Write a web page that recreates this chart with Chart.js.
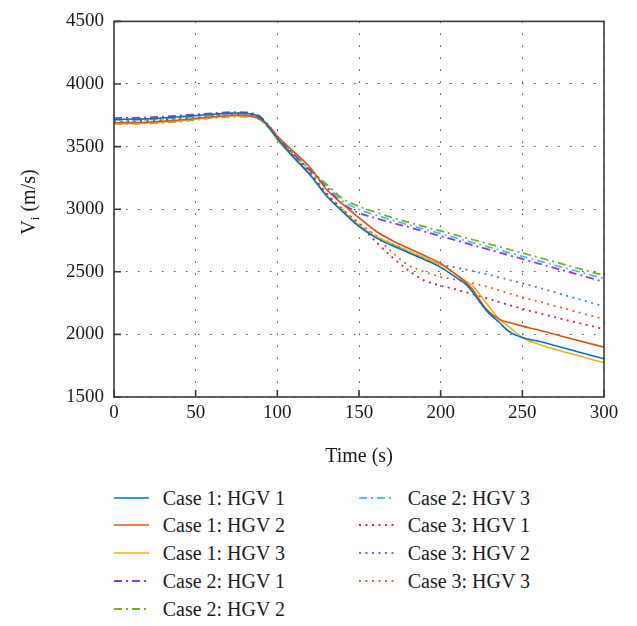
<!DOCTYPE html>
<html>
<head>
<meta charset="utf-8">
<script src="https://cdn.jsdelivr.net/npm/chart.js@4/dist/chart.umd.min.js"></script>
<style>
  html, body { margin: 0; padding: 0; background: #fff; }
  #zone { position: absolute; left: 0; top: 0; width: 637px; height: 470px; }
  .item { position: absolute; height: 20px; font: 20px "Liberation Serif", "DejaVu Serif", serif; color: #1a1a1a; white-space: nowrap; line-height: 20px; }
  .item svg { position: absolute; left: 0; top: 5px; }
  .item span { position: absolute; top: 0; }
</style>
</head>
<body>
<div id="zone"><canvas id="g-vi"></canvas></div>
<div id="legende"></div>
<script>
// Vitesse Vi (m/s) en fonction du temps — 3 cas x 3 HGV
var tempsCas1 = [0, 20, 40, 60, 75, 85, 90, 95, 100, 110, 120, 130, 140, 150, 160, 170, 180, 190, 200, 210, 216, 220, 228, 236, 242, 250, 260, 280, 300];
var tempsCas23 = [0, 20, 40, 60, 75, 85, 90, 95, 100, 110, 120, 130, 140, 150, 160, 170, 180, 190, 200, 210, 220, 230, 240, 250, 260, 280, 300];

var cas1Hgv1 = [3718, 3722, 3738, 3758, 3768, 3758, 3728, 3650, 3565, 3415, 3275, 3110, 2980, 2862, 2775, 2712, 2655, 2598, 2535, 2450, 2394, 2330, 2190, 2095, 2022, 1975, 1945, 1875, 1805];
var cas1Hgv2 = [3690, 3695, 3712, 3738, 3750, 3742, 3715, 3662, 3585, 3460, 3335, 3160, 3040, 2932, 2828, 2752, 2690, 2630, 2567, 2472, 2407, 2350, 2200, 2120, 2095, 2066, 2035, 1965, 1898];
var cas1Hgv3 = [3682, 3688, 3705, 3732, 3745, 3738, 3712, 3645, 3555, 3410, 3275, 3105, 2985, 2872, 2785, 2725, 2668, 2612, 2555, 2475, 2420, 2381, 2250, 2120, 2060, 1975, 1922, 1845, 1773];

var cas2Hgv1 = [3728, 3732, 3748, 3766, 3776, 3766, 3735, 3665, 3580, 3440, 3310, 3175, 3045, 2970, 2930, 2892, 2858, 2822, 2785, 2749, 2712, 2676, 2639, 2603, 2566, 2493, 2420];
var cas2Hgv2 = [3680, 3685, 3700, 3728, 3740, 3735, 3708, 3645, 3570, 3440, 3315, 3200, 3085, 3022, 2977, 2935, 2897, 2861, 2826, 2791, 2756, 2721, 2686, 2650, 2615, 2543, 2471];
var cas2Hgv3 = [3710, 3715, 3730, 3752, 3762, 3755, 3725, 3658, 3575, 3440, 3312, 3190, 3068, 2998, 2955, 2914, 2877, 2840, 2804, 2768, 2732, 2696, 2660, 2624, 2588, 2517, 2446];

var cas3Hgv1 = [3700, 3705, 3720, 3745, 3755, 3748, 3718, 3650, 3565, 3420, 3285, 3120, 2990, 2880, 2745, 2620, 2515, 2430, 2390, 2357, 2320, 2282, 2242, 2205, 2170, 2105, 2042];
var cas3Hgv2 = [3712, 3718, 3735, 3756, 3766, 3756, 3726, 3655, 3568, 3420, 3285, 3120, 2995, 2880, 2790, 2725, 2665, 2605, 2560, 2533, 2505, 2475, 2442, 2408, 2373, 2298, 2224];
var cas3Hgv3 = [3695, 3700, 3715, 3740, 3752, 3745, 3716, 3652, 3570, 3425, 3295, 3130, 3000, 2890, 2790, 2660, 2555, 2500, 2460, 2435, 2408, 2375, 2335, 2296, 2262, 2192, 2122];

var ticksX = [0, 50, 100, 150, 200, 250, 300];
var ticksY = [1500, 2000, 2500, 3000, 3500, 4000, 4500];

var POLICE = '"Liberation Serif", "DejaVu Serif", serif';
var PLEIN = [], TIRETPOINT = [8, 4, 2, 4], POINTS = [2, 4.5];

function serie(nom, temps, vals, couleur, tiret) {
  return {
    label: nom,
    data: temps.map(function (t, i) { return { x: t, y: vals[i] }; }),
    borderColor: couleur, backgroundColor: couleur,
    borderWidth: tiret.length ? 1.8 : 1.6,
    borderDash: tiret, pointRadius: 0,
    cubicInterpolationMode: "monotone", fill: false
  };
}

var series = [
  serie("Case 1: HGV 1", tempsCas1, cas1Hgv1, "#0072BD", PLEIN),
  serie("Case 1: HGV 2", tempsCas1, cas1Hgv2, "#D95319", PLEIN),
  serie("Case 1: HGV 3", tempsCas1, cas1Hgv3, "#EDB120", PLEIN),
  serie("Case 2: HGV 1", tempsCas23, cas2Hgv1, "#8E3FB0", TIRETPOINT),
  serie("Case 2: HGV 2", tempsCas23, cas2Hgv2, "#77AC30", TIRETPOINT),
  serie("Case 2: HGV 3", tempsCas23, cas2Hgv3, "#4DBEEE", TIRETPOINT),
  serie("Case 3: HGV 1", tempsCas23, cas3Hgv1, "#C8283A", POINTS),
  serie("Case 3: HGV 2", tempsCas23, cas3Hgv2, "#3C82CC", POINTS),
  serie("Case 3: HGV 3", tempsCas23, cas3Hgv3, "#E0632A", POINTS)
];

// cadre, petites graduations internes, titres des axes
var cadre = {
  id: "cadre",
  afterDatasetsDraw: function (c) {
    var a = c.chartArea, ctx = c.ctx, sx = c.scales.x, sy = c.scales.y;
    ctx.save();
    ctx.strokeStyle = "#3a3a3a"; ctx.lineWidth = 1.6; ctx.setLineDash([]);
    ctx.strokeRect(a.left, a.top, a.right - a.left, a.bottom - a.top);
    ctx.beginPath();
    ticksX.forEach(function (t) { var x = sx.getPixelForValue(t); ctx.moveTo(x, a.bottom); ctx.lineTo(x, a.bottom - 7); });
    ticksY.forEach(function (v) { var y = sy.getPixelForValue(v); ctx.moveTo(a.left, y); ctx.lineTo(a.left + 7, y); });
    ctx.stroke();
    ctx.restore();
  },
  afterDraw: function (c) {
    var ctx = c.ctx, a = c.chartArea;
    ctx.save();
    ctx.fillStyle = "#1a1a1a";
    ctx.font = "20px " + POLICE;
    ctx.textAlign = "center"; ctx.textBaseline = "middle";
    ctx.fillText("Time (s)", (a.left + a.right) / 2, 457);
    // Vi (m/s) avec indice
    ctx.translate(28, 202);
    ctx.rotate(-Math.PI / 2);
    ctx.textAlign = "left"; ctx.textBaseline = "alphabetic";
    var wV = ctx.measureText("V").width, wR = ctx.measureText(" (m/s)").width;
    ctx.font = "13px " + POLICE;
    var wI = ctx.measureText("i").width;
    var x0 = -(wV + wI + wR) / 2, base = 7;
    ctx.font = "20px " + POLICE;
    ctx.fillText("V", x0, base);
    ctx.font = "13px " + POLICE;
    ctx.fillText("i", x0 + wV, base + 4);
    ctx.font = "20px " + POLICE;
    ctx.fillText(" (m/s)", x0 + wV + wI, base);
    ctx.restore();
  }
};

function brut(v) { return String(v); }

var grille = { color: "#4a4a4a", lineWidth: 1 };
var chart = new Chart(document.getElementById("g-vi"), {
  type: "line",
  data: { datasets: series },
  options: {
    responsive: true, maintainAspectRatio: false, animation: false, devicePixelRatio: 1,
    layout: { padding: { top: 10, right: 33, bottom: 0, left: 0 } },
    plugins: { legend: { display: false }, tooltip: { enabled: false } },
    scales: {
      x: {
        type: "linear", min: 0, max: 300,
        afterBuildTicks: function (s) { s.ticks = ticksX.map(function (v) { return { value: v }; }); },
        afterFit: function (s) { s.height = 73; },
        ticks: { font: { family: POLICE, size: 19 }, color: "#1a1a1a", padding: 5, maxRotation: 0, callback: brut },
        grid: { color: grille.color, lineWidth: grille.lineWidth, drawTicks: false },
        border: { display: false, dash: [1.5, 10.5] }
      },
      y: {
        min: 1500, max: 4500,
        afterBuildTicks: function (s) { s.ticks = ticksY.map(function (v) { return { value: v }; }); },
        afterFit: function (s) { s.width = 114; },
        ticks: { font: { family: POLICE, size: 19 }, color: "#1a1a1a", padding: 10, callback: brut },
        grid: { color: grille.color, lineWidth: grille.lineWidth, drawTicks: false },
        border: { display: false, dash: [1.5, 10.5] }
      }
    }
  },
  plugins: [cadre]
});

// légende en deux colonnes sous le graphique
(function () {
  var box = document.getElementById("legende");
  var pas = 27.7, y0 = 497.7;
  chart.data.datasets.forEach(function (d, i) {
    var col = i < 5 ? 0 : 1, lig = i < 5 ? i : i - 5;
    var x = col ? 359 : 114, y = y0 + lig * pas;
    var el = document.createElement("div");
    el.className = "item";
    el.style.left = x + "px"; el.style.top = (y - 10) + "px";
    var dash = d.borderDash.length ? ' stroke-dasharray="' + d.borderDash.join(" ") + '"' : "";
    el.innerHTML = '<svg width="35" height="10"><line x1="0" y1="5" x2="35" y2="5" stroke="' + d.borderColor +
      '" stroke-width="' + d.borderWidth + '"' + dash + '/></svg><span style="left:48.7px">' + d.label + "</span>";
    box.appendChild(el);
  });
})();
</script>
</body>
</html>
